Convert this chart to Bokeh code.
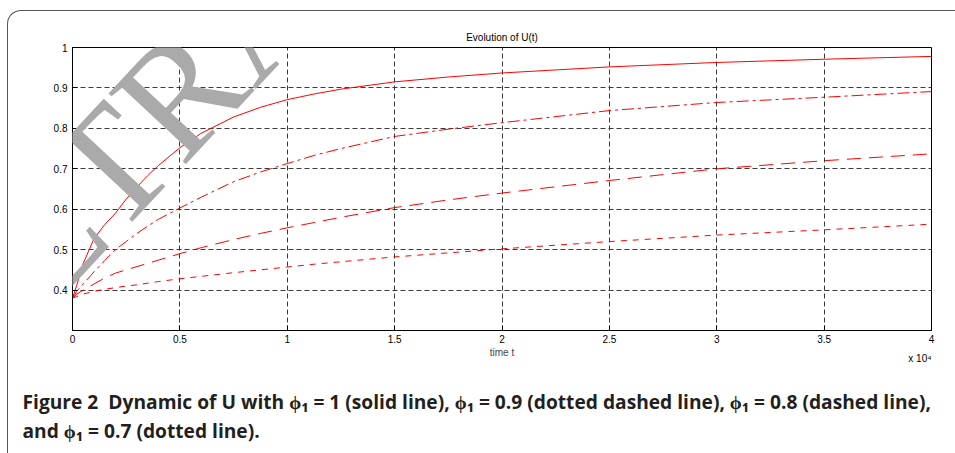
from bokeh.plotting import figure
from bokeh.models import FixedTicker, Label, Range1d, Title, InlineStyleSheet
from bokeh.embed import file_html
from bokeh.resources import INLINE
import math

# time in units of 10^4
t = [0, 0.02, 0.05, 0.1, 0.15, 0.2, 0.25, 0.3, 0.35, 0.4, 0.5, 0.6, 0.75, 0.875, 1.0, 1.125, 1.25, 1.5, 1.75, 2.0, 2.5, 3.0, 3.5, 4.0]
u_phi_1_0 = [0.38, 0.412, 0.466, 0.527, 0.562, 0.59, 0.625, 0.655, 0.683, 0.708, 0.752, 0.788, 0.828, 0.852, 0.871, 0.885, 0.897, 0.915, 0.927, 0.937, 0.952, 0.963, 0.971, 0.978]
u_phi_0_9 = [0.38, 0.397, 0.415, 0.445, 0.473, 0.50, 0.52, 0.54, 0.558, 0.575, 0.603, 0.63, 0.668, 0.692, 0.713, 0.733, 0.75, 0.78, 0.798, 0.814, 0.844, 0.864, 0.877, 0.891]
u_phi_0_8 = [0.38, 0.39, 0.40, 0.415, 0.43, 0.442, 0.45, 0.458, 0.466, 0.474, 0.49, 0.505, 0.525, 0.54, 0.554, 0.567, 0.58, 0.604, 0.623, 0.64, 0.671, 0.70, 0.72, 0.737]
u_phi_0_7 = [0.38, 0.384, 0.39, 0.397, 0.402, 0.406, 0.41, 0.413, 0.417, 0.421, 0.428, 0.434, 0.443, 0.45, 0.457, 0.464, 0.47, 0.482, 0.492, 0.502, 0.52, 0.536, 0.549, 0.563]

x_ticks = [0, 0.5, 1, 1.5, 2, 2.5, 3, 3.5, 4]
x_tick_labels = ["0", "0.5", "1", "1.5", "2", "2.5", "3", "3.5", "4"]
y_ticks = [0.4, 0.5, 0.6, 0.7, 0.8, 0.9, 1.0]
y_tick_labels = ["0.4", "0.5", "0.6", "0.7", "0.8", "0.9", "1"]

title = "Evolution of U(t)"
x_label = "time t"
x_multiplier = "x 10\u2074"
caption_1 = "Figure 2\u00a0 Dynamic of U with \u03d5\u2081 = 1 (solid line), \u03d5\u2081 = 0.9 (dotted dashed line), \u03d5\u2081 = 0.8 (dashed line),"
caption_2 = "and \u03d5\u2081 = 0.7 (dotted line)."
watermark = "RETRACTED"

W, H = 955, 453
FONT = "Liberation Sans"

p = figure(width=W, height=H, output_backend="svg", toolbar_location=None,
           x_range=Range1d(0, 4), y_range=Range1d(0.3, 1.0),
           min_border_left=72, min_border_right=24, min_border_top=47, min_border_bottom=123)
p.background_fill_color = "white"
p.border_fill_color = "white"
p.outline_line_color = "black"
p.outline_line_width = 1

# rounded page frame (top and left edges visible in the reference)
p.stylesheets = [InlineStyleSheet(css=""":host::after {
  content: ""; position: absolute; left: 7px; top: 10px; right: 0; bottom: 0;
  border-left: 1.5px solid #555; border-top: 1.5px solid #555;
  border-top-left-radius: 14px; pointer-events: none; box-sizing: border-box;
}""")]

p.title.text = title
p.title.align = "center"
p.title.text_font = FONT
p.title.text_font_size = "10px"
p.title.text_font_style = "normal"
p.title.text_color = "black"

for ax in (p.xaxis[0], p.yaxis[0]):
    ax.axis_line_color = "black"
    ax.major_tick_line_color = "black"
    ax.major_tick_in = 5
    ax.major_tick_out = 0
    ax.minor_tick_line_color = None
    ax.major_label_text_font = FONT
    ax.major_label_text_font_size = "10px"
    ax.major_label_text_color = "black"

p.xaxis.ticker = FixedTicker(ticks=x_ticks)
p.xaxis.major_label_overrides = {k: v for k, v in zip(x_ticks, x_tick_labels)}
p.yaxis.ticker = FixedTicker(ticks=y_ticks)
p.yaxis.major_label_overrides = {k: v for k, v in zip(y_ticks, y_tick_labels)}
p.xaxis.major_label_standoff = 4
p.yaxis.major_label_standoff = 5
p.xaxis.axis_label = x_label
p.xaxis.axis_label_text_font = FONT
p.xaxis.axis_label_text_font_size = "10px"
p.xaxis.axis_label_text_font_style = "normal"
p.xaxis.axis_label_standoff = 1

for g in (p.xgrid[0], p.ygrid[0]):
    g.grid_line_color = "#3a3a3a"
    g.grid_line_dash = "5 3"
    g.grid_line_width = 1

red = "#ff0000"
p.line(t, u_phi_1_0, line_color=red, line_width=1)
p.line(t, u_phi_0_9, line_color=red, line_width=1, line_dash="12 4 3 4")
p.line(t, u_phi_0_8, line_color=red, line_width=1, line_dash="14 8")
p.line(t, u_phi_0_7, line_color=red, line_width=1, line_dash="6 6")

mult = Title(text=x_multiplier, align="right", vertical_align="top", standoff=-16,
             text_font=FONT, text_font_style="normal", text_font_size="10px",
             text_color="black")
cap1 = Title(text=caption_1, align="left", vertical_align="top", offset=-50, standoff=54,
             text_font="Open Sans", text_font_style="bold", text_font_size="19.2px",
             text_color="#231f20")
cap2 = Title(text=caption_2, align="left", vertical_align="top", offset=-50, standoff=-54,
             text_font="Open Sans", text_font_style="bold", text_font_size="19.2px",
             text_color="#231f20")
p.add_layout(mult, "below")
p.add_layout(cap1, "below")
p.add_layout(cap2, "below")

p.add_layout(Label(x=-64, y=352, x_units="canvas", y_units="canvas", text=watermark,
                   angle=math.radians(47), text_align="left", text_baseline="alphabetic",
                   text_font="Liberation Serif", text_font_size="160px", text_color="#aaaaaa"))

open("out.html", "w").write(file_html(p, INLINE))
